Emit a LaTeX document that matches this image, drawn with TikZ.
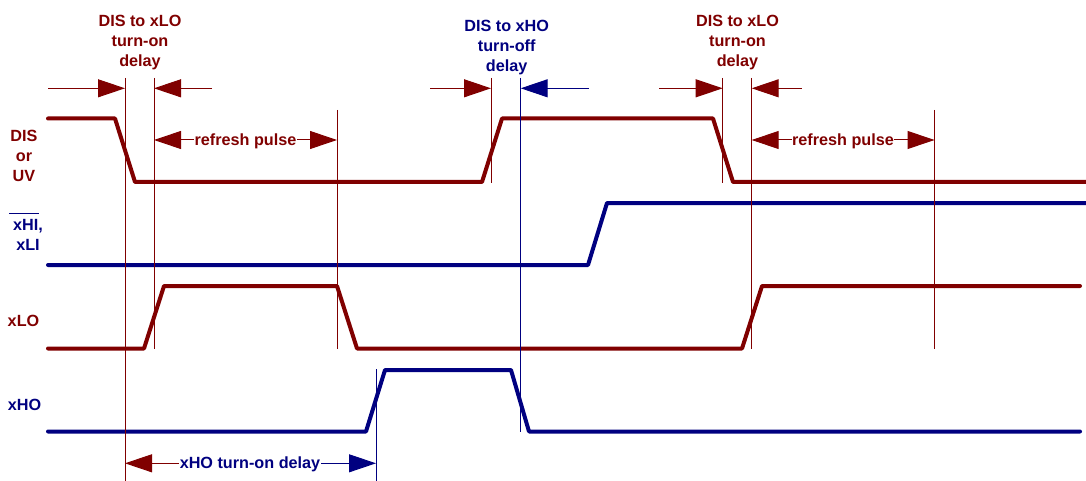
\documentclass[tikz,border=0pt]{standalone}
\usepackage{fontspec}
\setmainfont{Liberation Sans}
\usetikzlibrary{arrows.meta}
\definecolor{dred}{RGB}{128,0,0}
\definecolor{dblue}{RGB}{0,0,128}
\begin{document}
\begin{tikzpicture}[x=1pt,y=-1pt,
  sig/.style={line width=4pt, line cap=round, line join=round},
  guide/.style={line width=1pt},
  tipR/.style={-{Triangle[length=27pt,width=18pt]}},
  tipL/.style={{Triangle[length=27pt,width=18pt]}-},
  tipLR/.style={{Triangle[length=27pt,width=18pt]}-{Triangle[length=27pt,width=18pt]}},
  dimline/.style={line width=1pt},
  lab/.style={font=\fontsize{16.2}{20}\selectfont\bfseries, inner sep=0pt, align=center},
  dimlab/.style={lab, fill=white, inner sep=0.5pt}
]
\useasboundingbox (0,0) rectangle (1086,481);

% signals
\draw[sig, dred] (48,118.5) -- (115,118.5) -- (135,182) -- (482,182) -- (502,118.5) -- (713,118.5) -- (733,182) -- (1090,182);
\draw[sig, dblue] (48,265) -- (588,265) -- (607,203) -- (1090,203);
\draw[sig, dred] (48,348.5) -- (144,348.5) -- (164,286) -- (337,286) -- (357,348.5) -- (742,348.5) -- (762,286) -- (1080,286);
\draw[sig, dblue] (48,431.5) -- (366,431.5) -- (385,370) -- (511,370) -- (529,431.5) -- (1080,431.5);

% guide lines
\coordinate (g1t) at (125,78);   \coordinate (g1b) at (125,481);
\coordinate (g2t) at (154,78);   \coordinate (g2b) at (154,348.5);
\coordinate (g3t) at (337,110);  \coordinate (g3b) at (337,348.5);
\coordinate (g4t) at (491,78);   \coordinate (g4b) at (491,183);
\coordinate (g5t) at (520.7,78); \coordinate (g5b) at (520.7,431.5);
\coordinate (g6t) at (722.7,78); \coordinate (g6b) at (722.7,183);
\coordinate (g7t) at (751.7,78); \coordinate (g7b) at (751.7,348.5);
\coordinate (g8t) at (934.5,110);\coordinate (g8b) at (934.5,348.5);
\coordinate (g9t) at (376,369);  \coordinate (g9b) at (376,481);
\draw[guide, dred] (g1t) -- (g1b);
\draw[guide, dred] (g2t) -- (g2b);
\draw[guide, dred] (g3t) -- (g3b);
\draw[guide, dred] (g4t) -- (g4b);
\draw[guide, dblue] (g5t) -- (g5b);
\draw[guide, dred] (g6t) -- (g6b);
\draw[guide, dred] (g7t) -- (g7b);
\draw[guide, dred] (g8t) -- (g8b);
\draw[guide, dblue] (g9t) -- (g9b);

% delay arrows
\coordinate (a1s) at (48,88.3);   \coordinate (a1e) at (125,88.3);
\coordinate (a2s) at (212,88.3);  \coordinate (a2e) at (154,88.3);
\coordinate (a3s) at (430,88.3);  \coordinate (a3e) at (491,88.3);
\coordinate (a4s) at (589,88.3);  \coordinate (a4e) at (520.7,88.3);
\coordinate (a5s) at (659,88.3);  \coordinate (a5e) at (722.7,88.3);
\coordinate (a6s) at (801.7,88.3);\coordinate (a6e) at (751.7,88.3);
\draw[dimline, dred, tipR] (a1s) -- (a1e);
\draw[dimline, dred, tipR] (a2s) -- (a2e);
\draw[dimline, dred, tipR] (a3s) -- (a3e);
\draw[dimline, dblue, tipR] (a4s) -- (a4e);
\draw[dimline, dred, tipR] (a5s) -- (a5e);
\draw[dimline, dred, tipR] (a6s) -- (a6e);

% refresh pulses
\coordinate (r1s) at (154,140); \coordinate (r1e) at (337,140);
\coordinate (r2s) at (751.7,140); \coordinate (r2e) at (934.5,140);
\draw[dimline, dred, tipLR] (r1s) -- (r1e);
\draw[dimline, dred, tipLR] (r2s) -- (r2e);
\node[dimlab, text=dred, anchor=base] (rp1) at (245.5,145.7) {refresh pulse};
\node[dimlab, text=dred, anchor=base] (rp2) at (843,145.7) {refresh pulse};

% xHO turn-on delay
\coordinate (hs) at (125,463.3); \coordinate (hm) at (250.5,463.3); \coordinate (he) at (376,463.3);
\draw[dimline, dred, tipL] (hs) -- (hm);
\draw[dimline, dblue, tipR] (hm) -- (he);
\node[dimlab, text=dblue, anchor=base] (hod) at (250,468.3) {xHO turn-on delay};

% top labels
\node[lab, text=dred, anchor=base] (l1) at (140,66.7) {DIS to xLO\\turn-on\\delay};
\node[lab, text=dblue, anchor=base] (l2) at (506.7,71.7) {DIS to xHO\\turn-off\\delay};
\node[lab, text=dred, anchor=base] (l3) at (737.5,66.7) {DIS to xLO\\turn-on\\delay};

% signal names
\node[lab, text=dred, anchor=base] (n1) at (24,181.7) {DIS\\or\\UV};
\node[lab, text=dblue, anchor=base] (n2) at (28,250) {xHI,\\xLI};
\draw[dblue, line width=1.2pt] (9,213.3) -- (39,213.3);
\node[lab, text=dred, anchor=base] (n3) at (23.5,326.7) {xLO};
\node[lab, text=dblue, anchor=base] (n4) at (24.5,410) {xHO};
\end{tikzpicture}
\end{document}
